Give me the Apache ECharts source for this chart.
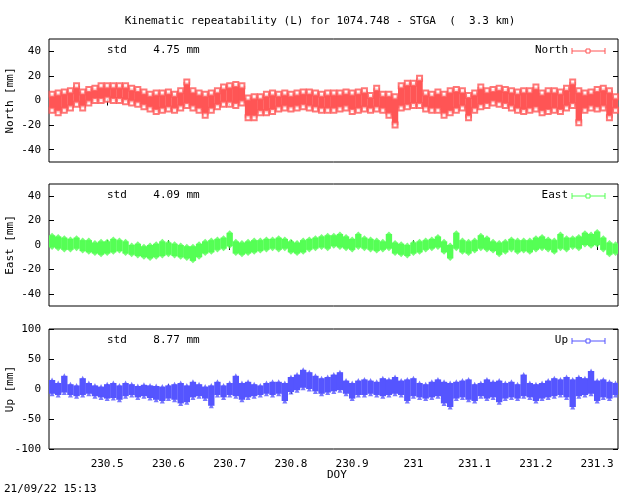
<!DOCTYPE html>
<html>
<head>
<meta charset="utf-8">
<script src="https://cdn.jsdelivr.net/npm/echarts@6/dist/echarts.min.js"></script>
<style>
  html, body { margin: 0; padding: 0; background: #fff; }
  #chart { width: 640px; height: 496px; }
</style>
</head>
<body>
<div id="chart"></div>
<script>
// day of year, sampled every 0.01 day
const doy = [230.41, 230.42, 230.43, 230.44, 230.45, 230.46, 230.47, 230.48, 230.49, 230.50,
  230.51, 230.52, 230.53, 230.54, 230.55, 230.56, 230.57, 230.58, 230.59, 230.60,
  230.61, 230.62, 230.63, 230.64, 230.65, 230.66, 230.67, 230.68, 230.69, 230.70,
  230.71, 230.72, 230.73, 230.74, 230.75, 230.76, 230.77, 230.78, 230.79, 230.80,
  230.81, 230.82, 230.83, 230.84, 230.85, 230.86, 230.87, 230.88, 230.89, 230.90,
  230.91, 230.92, 230.93, 230.94, 230.95, 230.96, 230.97, 230.98, 230.99, 231.00,
  231.01, 231.02, 231.03, 231.04, 231.05, 231.06, 231.07, 231.08, 231.09, 231.10,
  231.11, 231.12, 231.13, 231.14, 231.15, 231.16, 231.17, 231.18, 231.19, 231.20,
  231.21, 231.22, 231.23, 231.24, 231.25, 231.26, 231.27, 231.28, 231.29, 231.30,
  231.31, 231.32, 231.33];

// envelope (low / high) of each component, mm
const northLow = [-8, -10, -8, -6, -3, -6, -2, 0, 0, 1, 0, 0, -1, -2, -3, -5, -7, -9, -8, -7,
  -8, -6, -4, -6, -8, -12, -8, -5, -3, -3, -4, -2, -14, -14, -10, -10, -9, -7, -6, -7,
  -6, -5, -6, -7, -8, -8, -8, -7, -6, -9, -8, -7, -8, -7, -8, -12, -20, -6, -5, -4,
  -4, -7, -8, -8, -12, -10, -8, -6, -14, -8, -5, -4, -2, -3, -4, -6, -8, -9, -8, -7,
  -10, -9, -8, -9, -6, -4, -18, -8, -6, -7, -6, -14, -8];
const northHigh = [5, 6, 7, 8, 12, 7, 9, 10, 12, 12, 12, 12, 12, 10, 9, 7, 5, 6, 6, 7,
  5, 8, 15, 8, 6, 5, 6, 8, 11, 12, 13, 12, 2, 3, 3, 5, 6, 5, 6, 5,
  6, 7, 7, 6, 5, 6, 6, 6, 7, 6, 7, 8, 4, 10, 5, 5, 3, 12, 14, 14,
  18, 6, 5, 7, 5, 8, 9, 8, 4, 6, 11, 8, 9, 10, 9, 8, 7, 8, 8, 11,
  6, 8, 8, 7, 10, 15, 8, 6, 7, 9, 10, 8, 3];

const eastLow = [-2, -3, -4, -4, -3, -5, -6, -7, -8, -7, -6, -5, -7, -8, -9, -10, -11, -10, -9, -8,
  -9, -10, -11, -13, -10, -7, -6, -4, -3, -1, -7, -8, -7, -6, -5, -4, -3, -4, -3, -6,
  -7, -6, -4, -3, -2, -3, -1, -2, -3, -4, -2, -3, -4, -5, -4, -3, -7, -8, -9, -7,
  -6, -4, -3, -2, -6, -11, -3, -6, -7, -5, -3, -4, -5, -8, -6, -4, -6, -5, -6, -4,
  -3, -4, -6, -3, -4, -2, -3, 0, -1, 0, -4, -8, -7];
const eastHigh = [8, 7, 6, 5, 6, 4, 4, 2, 3, 3, 5, 4, 3, 0, 1, -1, 0, 1, 3, 2,
  1, 0, -1, -1, 1, 3, 4, 5, 6, 10, 3, 2, 3, 4, 4, 5, 5, 6, 5, 3,
  2, 4, 5, 6, 7, 8, 8, 9, 7, 5, 9, 6, 5, 4, 3, 9, 2, 1, 0, 2,
  3, 4, 5, 7, 3, 0, 10, 4, 3, 4, 8, 6, 3, 2, 3, 5, 4, 4, 4, 6,
  7, 5, 4, 9, 6, 6, 7, 10, 9, 11, 6, 2, 1];

const upLow = [-8, -10, -6, -10, -12, -10, -8, -12, -14, -16, -15, -18, -12, -10, -14, -12, -15, -18, -20, -16,
  -18, -24, -22, -14, -12, -16, -28, -10, -14, -10, -12, -18, -14, -12, -10, -8, -10, -8, -20, -5,
  -2, 2, 0, -4, -8, -6, -4, -2, -8, -16, -10, -10, -8, -10, -12, -10, -8, -10, -20, -12,
  -14, -16, -14, -12, -24, -30, -16, -14, -18, -20, -12, -16, -14, -22, -16, -14, -16, -12, -14, -20,
  -16, -14, -12, -10, -14, -30, -12, -10, -8, -20, -14, -16, -10];
const upHigh = [15, 10, 22, 8, 6, 18, 10, 6, 4, 8, 10, 6, 10, 8, 5, 7, 6, 5, 4, 6,
  8, 10, 6, 12, 8, 4, 6, 12, 6, 10, 22, 10, 12, 8, 6, 10, 12, 12, 10, 20,
  24, 32, 28, 22, 18, 20, 24, 28, 14, 10, 14, 16, 14, 12, 18, 16, 20, 14, 16, 18,
  10, 8, 12, 16, 12, 10, 12, 14, 16, 8, 10, 16, 12, 14, 10, 12, 8, 24, 10, 8,
  10, 14, 18, 16, 20, 16, 20, 18, 30, 14, 16, 12, 10];

const xTicks = [230.5, 230.6, 230.7, 230.8, 230.9, 231.0, 231.1, 231.2, 231.3];
const font = 'DejaVu Sans Mono';

const panels = [
  { name: 'North', axis: 'North [mm]', std: '4.75', color: '#ff5555', symbol: 'emptyRect', low: northLow, high: northHigh, min: -50, max: 50, ticks: [-40, -20, 0, 20, 40], top: 39, height: 123 },
  { name: 'East', axis: 'East [mm]', std: '4.09', color: '#55ff55', symbol: 'diamond', low: eastLow, high: eastHigh, min: -50, max: 50, ticks: [-40, -20, 0, 20, 40], top: 184, height: 122 },
  { name: 'Up', axis: 'Up [mm]', std: '8.77', color: '#5555ff', symbol: 'triangle', low: upLow, high: upHigh, min: -100, max: 100, ticks: [-100, -50, 0, 50, 100], top: 329, height: 120 },
];

const grid = [], xAxis = [], yAxis = [], series = [], graphic = [];

// each sample is a vertical block from low to high, 0.01 day wide
function renderBand(params, api) {
  const x = api.value(0);
  const a = api.coord([x - 0.0052, api.value(2)]);
  const b = api.coord([x + 0.0052, api.value(1)]);
  return {
    type: 'rect',
    shape: echarts.graphic.clipRectByRect(
      { x: a[0], y: a[1], width: b[0] - a[0], height: b[1] - a[1] },
      params.coordSys),
    style: { fill: api.visual('color') },
  };
}

panels.forEach((p, i) => {
  grid.push({ left: 49, right: 22, top: p.top, height: p.height, outerBoundsMode: 'none', containLabel: false, show: true, borderColor: '#000', borderWidth: 1 });
  ['bottom', 'top'].forEach((pos) => {
    xAxis.push({
      type: 'value', gridIndex: i, position: pos, min: 230.405, max: 231.334,
      axisLine: { show: false }, splitLine: { show: false },
      axisTick: { show: true, inside: true, length: 5, customValues: xTicks, lineStyle: { color: '#000' } },
      axisLabel: {
        show: pos === 'bottom' && i === 2, customValues: xTicks, margin: 10,
        fontFamily: font, fontSize: 11, color: '#000',
        formatter: (v) => String(+v.toFixed(1)),
      },
    });
  });
  ['left', 'right'].forEach((pos) => {
    yAxis.push({
      type: 'value', gridIndex: i, position: pos, min: p.min, max: p.max,
      axisLine: { show: false }, splitLine: { show: false },
      axisTick: { show: true, inside: true, length: 5, customValues: p.ticks, lineStyle: { color: '#000' } },
      axisLabel: { show: pos === 'left', customValues: p.ticks, margin: 8, fontFamily: font, fontSize: 11, color: '#000' },
    });
  });
  const xi = i * 2, yi = i * 2;
  series.push({
    type: 'custom', xAxisIndex: xi, yAxisIndex: yi, silent: true,
    renderItem: renderBand, itemStyle: { color: p.color },
    data: doy.map((d, k) => [d, p.low[k], p.high[k]]),
  });
  series.push({
    type: 'scatter', xAxisIndex: xi, yAxisIndex: yi, silent: true,
    symbol: p.symbol, symbolSize: 5, itemStyle: { color: p.color },
    data: doy.map((d, k) => [d, p.low[k]]).concat(doy.map((d, k) => [d, p.high[k]])),
  });
  const ty = p.top + 12;
  // rotated axis title
  graphic.push({ type: 'text', x: 10, y: p.top + p.height / 2, rotation: Math.PI / 2,
    style: { text: p.axis, font: '11px ' + font, fill: '#000', align: 'center', verticalAlign: 'middle' } });
  graphic.push({ type: 'text', left: 107, top: ty - 6, style: { text: 'std    ' + p.std + ' mm', font: '11px ' + font, fill: '#000' } });
  graphic.push({ type: 'text', right: 72, top: ty - 6, style: { text: p.name, font: '11px ' + font, fill: '#000', textAlign: 'right' } });
  graphic.push({ type: 'line', shape: { x1: 572, y1: ty, x2: 605, y2: ty }, style: { stroke: p.color, lineWidth: 1 } });
  graphic.push({ type: 'line', shape: { x1: 572, y1: ty - 3, x2: 572, y2: ty + 3 }, style: { stroke: p.color, lineWidth: 1 } });
  graphic.push({ type: 'line', shape: { x1: 605, y1: ty - 3, x2: 605, y2: ty + 3 }, style: { stroke: p.color, lineWidth: 1 } });
  graphic.push({ type: 'rect', shape: { x: 586, y: ty - 2, width: 4, height: 4 }, style: { stroke: p.color, fill: '#fff', lineWidth: 1 } });
});

graphic.push({ type: 'text', left: 'center', top: 16, style: { text: 'Kinematic repeatability (L) for 1074.748 - STGA  (  3.3 km)', font: '11px ' + font, fill: '#000' } });
graphic.push({ type: 'text', left: 327, top: 470, style: { text: 'DOY', font: '11px ' + font, fill: '#000' } });
graphic.push({ type: 'text', left: 4, top: 484, style: { text: '21/09/22 15:13', font: '11px ' + font, fill: '#000' } });

const chart = echarts.init(document.getElementById('chart'));
chart.setOption({
  animation: false,
  backgroundColor: '#fff',
  grid, xAxis, yAxis, series, graphic,
});
</script>
</body>
</html>
